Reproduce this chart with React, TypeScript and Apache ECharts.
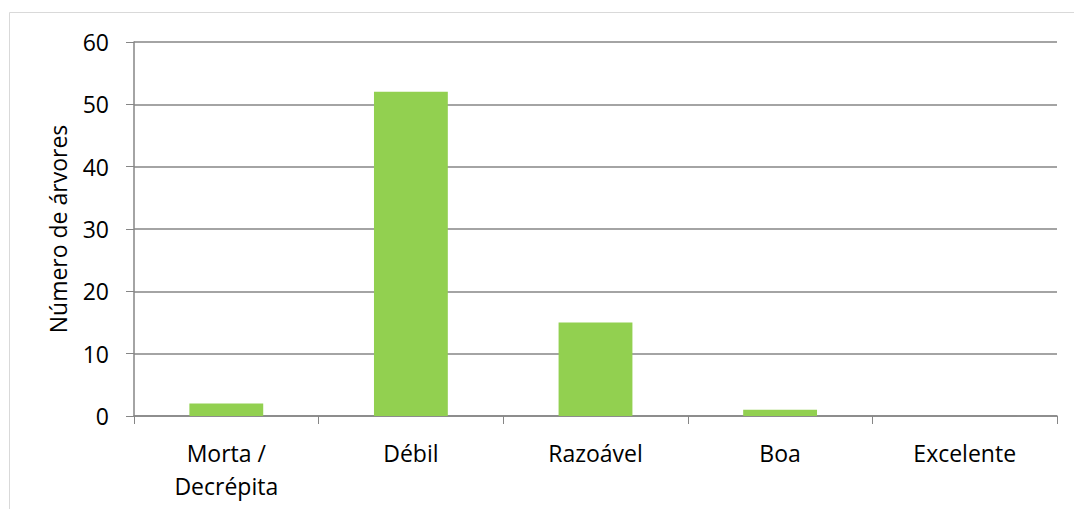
import React, { useEffect, useRef } from "react";
import * as echarts from "echarts";

const categories = ["Morta /\nDecrépita", "Débil", "Razoável", "Boa", "Excelente"];
const values = [2, 52, 15, 1, 0];
const yAxisName = "Número de árvores";

export default function App() {
  const ref = useRef<HTMLDivElement>(null);
  useEffect(() => {
    const chart = echarts.init(ref.current!, null, { renderer: "svg" });
    const font = "'Open Sans', sans-serif";
    chart.setOption({
      animation: false,
      textStyle: { fontFamily: font },
      graphic: [
        {
          type: "rect",
          shape: { x: 9.5, y: 12.5, width: 1080, height: 520 },
          style: { fill: "none", stroke: "#d9d9d9", lineWidth: 1 },
          silent: true,
        },
      ],
      grid: { left: 134, right: 17, top: 42, bottom: 93 },
      xAxis: {
        type: "category",
        data: categories,
        axisLine: { lineStyle: { color: "#868686", width: 1.5 } },
        axisTick: { show: true, length: 8, lineStyle: { color: "#868686" } },
        axisLabel: { color: "#000", fontSize: 23, fontFamily: font, margin: 20, lineHeight: 33 },
      },
      yAxis: {
        type: "value",
        min: 0,
        max: 60,
        interval: 10,
        name: yAxisName,
        nameLocation: "middle",
        nameGap: 65,
        nameTextStyle: { color: "#000", fontSize: 23, fontFamily: font },
        axisLine: { show: true, lineStyle: { color: "#868686", width: 1.5 } },
        axisTick: { show: true, length: 8, lineStyle: { color: "#868686" } },
        axisLabel: { color: "#000", fontSize: 23, fontFamily: font, margin: 25 },
        splitLine: { lineStyle: { color: "#868686", width: 1.5 } },
      },
      series: [
        {
          type: "bar",
          data: values,
          barWidth: "40%",
          itemStyle: { color: "#92D050" },
        },
      ],
    });
    return () => chart.dispose();
  }, []);
  return (
    <div
      ref={ref}
      style={{ position: "fixed", left: 0, top: 0, width: 1074, height: 509, background: "#fff" }}
    />
  );
}
